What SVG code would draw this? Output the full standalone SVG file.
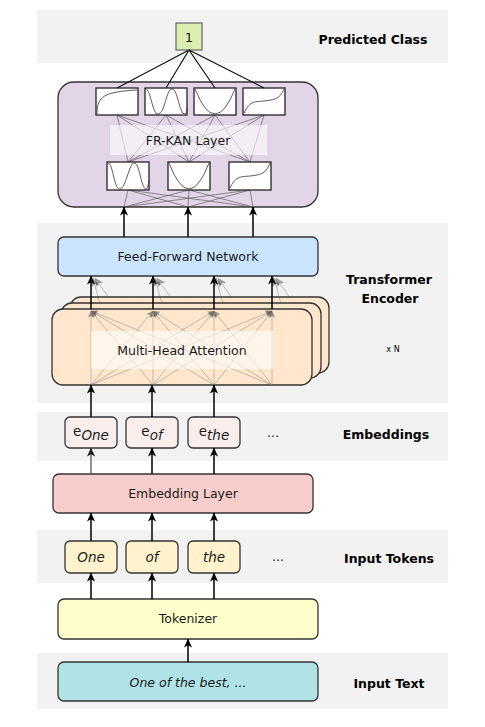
<svg xmlns="http://www.w3.org/2000/svg" width="485" height="727" viewBox="0 0 485 727">
<style>
.band{fill:#f2f2f2}
.box{stroke:#333;stroke-width:1.3}
.lbl{font-family:"DejaVu Sans",Verdana,sans-serif;font-size:12.5px;fill:#1a1a1a;text-anchor:middle}
.it{font-style:italic}
.side{font-family:"DejaVu Sans",Verdana,sans-serif;font-size:12.5px;font-weight:bold;fill:#000;text-anchor:middle}
.arr{stroke:#000;stroke-width:1.5;fill:none;marker-end:url(#ah)}
.fn{fill:#fff;stroke:#222;stroke-width:1.3}
.crv{fill:none;stroke:#333;stroke-width:0.8}
.kl{stroke:#555;stroke-width:0.75;fill:none;opacity:0.85}
.fan{stroke:#777;stroke-width:0.7;fill:none;opacity:0.6;marker-end:url(#gh)}
.ghost{stroke:#555;stroke-width:1;fill:none;opacity:0.35;marker-end:url(#ah)}
.veil{fill:#fff;opacity:0.6}
</style>
<defs>
<marker id="ah" viewBox="0 0 10 10" refX="9.5" refY="5" markerWidth="9" markerHeight="9" markerUnits="userSpaceOnUse" orient="auto">
<path d="M0,0.5 L10,5 L0,9.5 L2.5,5 z" fill="#000"/>
</marker>
<marker id="gh" viewBox="0 0 10 10" refX="9.5" refY="5" markerWidth="7" markerHeight="7" markerUnits="userSpaceOnUse" orient="auto">
<path d="M0,0.5 L10,5 L0,9.5 L2.5,5 z" fill="#555"/>
</marker>
</defs>

<g id="bands">
<rect class="band" x="37" y="10" width="411" height="53"/>
<rect class="band" x="37" y="223" width="411" height="180"/>
<rect class="band" x="37" y="412" width="411" height="49"/>
<rect class="band" x="37" y="530" width="411" height="53"/>
<rect class="band" x="37" y="653" width="411" height="56"/>
</g>

<g id="side-labels">
<text class="side" x="373" y="44">Predicted Class</text>
<text class="side" x="389" y="284">Transformer</text>
<text class="side" x="390" y="303">Encoder</text>
<text class="side" x="393" y="352" style="font-size:8px;font-weight:normal">x N</text>
<text class="side" x="386" y="439">Embeddings</text>
<text class="side" x="389" y="563">Input Tokens</text>
<text class="side" x="389" y="688">Input Text</text>
</g>

<g id="kan-layer">
<rect class="box" x="58" y="82" width="260" height="125" rx="16" fill="#e1d5e7"/>
<g id="kan-lines">
<path class="kl" d="M117,115 L128,162 M117,115 L189,162 M117,115 L250,162 M166,115 L128,162 M166,115 L189,162 M166,115 L250,162 M215,115 L128,162 M215,115 L189,162 M215,115 L250,162 M264,115 L128,162 M264,115 L189,162 M264,115 L250,162"/>
<path class="kl" d="M124,207 L128,190 M124,207 L189,190 M124,207 L250,190 M188,207 L128,190 M188,207 L189,190 M188,207 L250,190 M253,207 L128,190 M253,207 L189,190 M253,207 L250,190"/>
</g>
<rect class="veil" x="110" y="125" width="157" height="30"/>
<text class="lbl" x="188" y="145">FR-KAN Layer</text>
<rect class="fn" x="96" y="88" width="42" height="27"/>
<path class="crv" d="M97,114 C97,96 104,92 137,90"/>
<rect class="fn" x="145" y="88" width="42" height="27"/>
<path class="crv" d="M145.5,89 C151,89 152,114 158,114 C165,114 166,89 172,89 C178,89 179,114 185,114 C186.5,114 187,110 187,108"/>
<rect class="fn" x="194" y="88" width="42" height="27"/>
<path class="crv" d="M195,89 Q215,139 235,89"/>
<rect class="fn" x="243" y="88" width="42" height="27"/>
<path class="crv" d="M244,113 C250,100 256,102 264,101 C272,100 280,100 284,89"/>
<rect class="fn" x="107" y="162" width="42" height="28"/>
<path class="crv" d="M108,163 C113,163 114,189 119.5,189 C126,189 129,163 134,163 C140,163 141,189 146,189 C147.5,189 148.5,184 149,180"/>
<rect class="fn" x="168" y="162" width="42" height="28"/>
<path class="crv" d="M169,163 Q189,215 209,163"/>
<rect class="fn" x="229" y="162" width="42" height="28"/>
<path class="crv" d="M230,188 C236,175 242,177 250,176 C258,175 266,175 270,163"/>
</g>

<g id="predicted-class">
<rect x="176" y="23" width="26" height="27" fill="#dcedb0" stroke="#666" stroke-width="1.2"/>
<text class="lbl" x="189" y="42" style="font-size:13px">1</text>
</g>

<g id="ffn">
<rect class="box" x="58" y="237" width="260" height="39" rx="6" fill="#cce5ff"/>
<text class="lbl" x="188" y="261">Feed-Forward Network</text>
</g>

<g id="mha">
<rect class="box" x="70" y="297" width="259" height="76" rx="11" fill="#ffe6cc"/>
<rect class="box" x="61" y="303" width="260" height="75" rx="11" fill="#ffe6cc"/>
<rect class="box" x="52" y="309" width="260" height="76" rx="11" fill="#ffe6cc"/>
<g id="mha-fan">
<path class="fan" d="M91,385 L91,311"/><path class="fan" d="M153,385 L91,311"/><path class="fan" d="M214,385 L91,311"/><path class="fan" d="M272,385 L91,311"/>
<path class="fan" d="M91,385 L153,311"/><path class="fan" d="M153,385 L153,311"/><path class="fan" d="M214,385 L153,311"/><path class="fan" d="M272,385 L153,311"/>
<path class="fan" d="M91,385 L214,311"/><path class="fan" d="M153,385 L214,311"/><path class="fan" d="M214,385 L214,311"/><path class="fan" d="M272,385 L214,311"/>
<path class="fan" d="M91,385 L272,311"/><path class="fan" d="M153,385 L272,311"/><path class="fan" d="M214,385 L272,311"/><path class="fan" d="M272,385 L272,311"/>
</g>
<rect class="veil" x="91" y="331" width="182" height="38"/>
<text class="lbl" x="182" y="355">Multi-Head Attention</text>
</g>

<g id="embedding-layer">
<rect class="box" x="53" y="474" width="260" height="39" rx="6" fill="#f8cecc"/>
<text class="lbl" x="183" y="498">Embedding Layer</text>
</g>

<g id="embeddings">
<g id="e-one"><rect class="box" x="65" y="417" width="52" height="31" rx="5" fill="#f9eeec"/>
<text class="lbl" x="91" y="436" style="font-size:13.5px">e<tspan class="it" dy="4">One</tspan></text></g>
<g id="e-of"><rect class="box" x="126" y="417" width="52" height="31" rx="5" fill="#f9eeec"/>
<text class="lbl" x="152" y="436" style="font-size:13.5px">e<tspan class="it" dy="4">of</tspan></text></g>
<g id="e-the"><rect class="box" x="188" y="417" width="52" height="31" rx="5" fill="#f9eeec"/>
<text class="lbl" x="214" y="436" style="font-size:13.5px">e<tspan class="it" dy="4">the</tspan></text></g>
<text class="lbl" x="273" y="437">...</text>
</g>

<g id="tokens">
<g id="t-one"><rect class="box" x="65" y="541" width="52" height="32" rx="5" fill="#fff2cc"/>
<text class="lbl it" x="91" y="562" style="font-size:13.5px">One</text></g>
<g id="t-of"><rect class="box" x="126" y="541" width="52" height="32" rx="5" fill="#fff2cc"/>
<text class="lbl it" x="152" y="562" style="font-size:13.5px">of</text></g>
<g id="t-the"><rect class="box" x="188" y="541" width="52" height="32" rx="5" fill="#fff2cc"/>
<text class="lbl it" x="214" y="562" style="font-size:13.5px">the</text></g>
<text class="lbl" x="278" y="561">...</text>
</g>

<g id="tokenizer">
<rect class="box" x="58" y="599" width="260" height="40" rx="6" fill="#ffffcc"/>
<text class="lbl" x="188" y="623">Tokenizer</text>
</g>

<g id="input-text">
<rect class="box" x="58" y="662" width="260" height="39" rx="6" fill="#b0e3e6"/>
<text class="lbl it" x="188" y="687">One of the best, ...</text>
</g>

<g id="connectors">
<path d="M189,50 L117,88 M189,50 L166,88 M189,50 L215,88 M189,50 L264,88" stroke="#111" stroke-width="1.2" fill="none"/>
<path class="arr" d="M124,237 L124,207"/>
<path class="arr" d="M188,237 L188,207"/>
<path class="arr" d="M253,237 L253,207"/>
<path class="ghost" d="M109,298 L95,278"/><path class="ghost" d="M100,304 L93,278"/>
<path class="ghost" d="M171,298 L157,278"/><path class="ghost" d="M162,304 L155,278"/>
<path class="ghost" d="M232,298 L218,278"/><path class="ghost" d="M223,304 L216,278"/>
<path class="ghost" d="M290,298 L276,278"/><path class="ghost" d="M281,304 L274,278"/>
<path class="arr" d="M91,309 L91,276"/>
<path class="arr" d="M153,309 L153,276"/>
<path class="arr" d="M214,309 L214,276"/>
<path class="arr" d="M272,309 L272,276"/>
<path class="arr" d="M91,417 L91,385"/>
<path class="arr" d="M152,417 L152,385"/>
<path class="arr" d="M214,417 L214,385"/>
<path class="arr" d="M91,474 L91,448" style="stroke:#555;opacity:0.85"/>
<path class="arr" d="M152,474 L152,448"/>
<path class="arr" d="M214,474 L214,448"/>
<path class="arr" d="M91,541 L91,513"/>
<path class="arr" d="M152,541 L152,513"/>
<path class="arr" d="M214,541 L214,513"/>
<path class="arr" d="M91,599 L91,573"/>
<path class="arr" d="M152,599 L152,573"/>
<path class="arr" d="M214,599 L214,573"/>
<path class="arr" d="M188,662 L188,639"/>
</g>
</svg>
